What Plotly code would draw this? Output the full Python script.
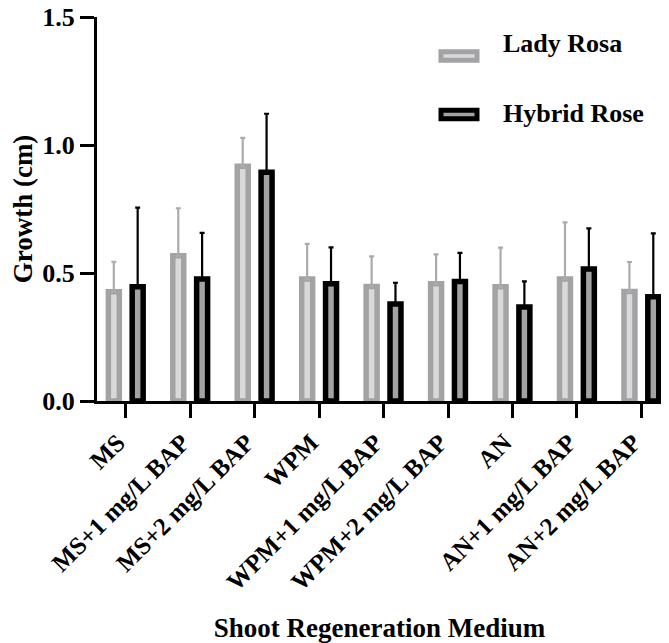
import plotly.graph_objects as go

categories = ["MS", "MS+1 mg/L BAP", "MS+2 mg/L BAP", "WPM", "WPM+1 mg/L BAP",
              "WPM+2 mg/L BAP", "AN", "AN+1 mg/L BAP", "AN+2 mg/L BAP"]
lady_rosa = [0.427, 0.567, 0.917, 0.477, 0.447, 0.458, 0.446, 0.477, 0.428]
lady_rosa_err = [0.117, 0.186, 0.111, 0.137, 0.118, 0.115, 0.153, 0.221, 0.115]
hybrid_rose = [0.446, 0.477, 0.894, 0.458, 0.379, 0.467, 0.367, 0.516, 0.407]
hybrid_rose_err = [0.309, 0.180, 0.228, 0.142, 0.083, 0.112, 0.100, 0.158, 0.248]
series_names = ["Lady Rosa", "Hybrid Rose"]
y_ticks = [0.0, 0.5, 1.0, 1.5]

GRAY = "#A3A3A6"
LIGHT = "#D9D9D9"
FONT = "Liberation Serif"

fig = go.Figure()
fig.add_trace(go.Bar(
    x=categories, y=lady_rosa, name=series_names[0],
    marker=dict(color=LIGHT, line=dict(color=GRAY, width=5.5)),
    error_y=dict(type="data", symmetric=False, array=lady_rosa_err,
                 arrayminus=[0] * len(lady_rosa), color="#ABABAB",
                 thickness=2.2, width=2.5),
))
fig.add_trace(go.Bar(
    x=categories, y=hybrid_rose, name=series_names[1],
    marker=dict(color=GRAY, line=dict(color="black", width=5.5)),
    error_y=dict(type="data", symmetric=False, array=hybrid_rose_err,
                 arrayminus=[0] * len(hybrid_rose), color="black",
                 thickness=2.2, width=2.5),
))

# page body has an 8px margin; figure is offset by it inside the window
OFF = 8
W, H = 661, 635
L, R, T, B = 97 - OFF, 7, 17 - OFF, 242
pw, ph = W - L - R, H - T - B

def px_x(p):  # page pixel -> paper
    return (p - OFF - L) / pw

def px_y(p):
    return (H - B - (p - OFF)) / ph

fig.update_layout(
    width=W, height=H,
    margin=dict(l=L, r=R, t=T, b=B, autoexpand=False),
    plot_bgcolor="white", paper_bgcolor="white",
    barmode="group", bargap=0.26, bargroupgap=0.54,
    showlegend=False,
    font=dict(family=FONT, color="black"),
)
fig.update_xaxes(
    range=[-0.446, 8.32], showline=True, linecolor="black", linewidth=3,
    ticks="outside", ticklen=14, tickwidth=3, tickcolor="black",
    tickangle=-45, tickfont=dict(family=FONT, size=25, weight="bold"),
    ticklabelshift=-8,
    showgrid=False, zeroline=False, ticklabeloverflow="allow",
    title=dict(text="Shoot Regeneration Medium",
               font=dict(family=FONT, size=27, weight="bold"), standoff=28),
)
fig.update_yaxes(
    range=[0, 1.5], showline=True, linecolor="black", linewidth=3,
    ticks="outside", ticklen=14, tickwidth=3, tickcolor="black",
    tickvals=y_ticks, ticktext=[f"{v:.1f}" for v in y_ticks],
    tickfont=dict(family=FONT, size=26, weight="bold"),
    showgrid=False, zeroline=False, ticklabeloverflow="allow",
    title=dict(text="Growth (cm)",
               font=dict(family=FONT, size=27, weight="bold"), standoff=14),
)

# legend drawn as swatches + labels
legend_rows = [
    (series_names[0], LIGHT, GRAY, 56, 43),
    (series_names[1], GRAY, "black", 114.5, 113),
]
for name, fill, line, sy, ty in legend_rows:
    fig.add_shape(type="rect", xref="paper", yref="paper",
                  x0=px_x(441), x1=px_x(477), y0=px_y(sy + 4.3), y1=px_y(sy - 4.3),
                  fillcolor=fill, line=dict(color=line, width=5))
    fig.add_annotation(xref="paper", yref="paper", x=px_x(501), y=px_y(ty),
                       xanchor="left", yanchor="middle", showarrow=False,
                       text=name, font=dict(family=FONT, size=26, weight="bold"))

fig.write_html("out.html")
